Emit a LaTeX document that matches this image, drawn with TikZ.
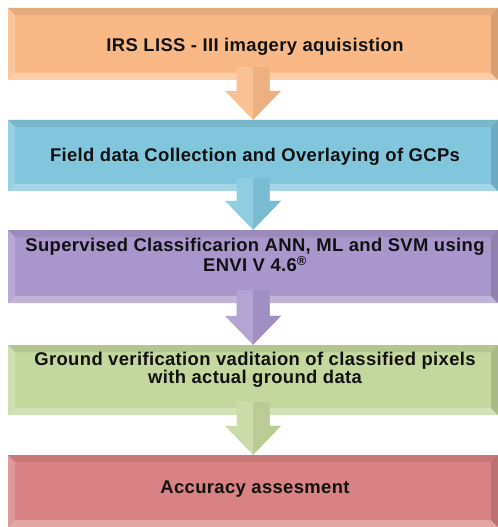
\documentclass[tikz,border=0pt]{standalone}
\usepackage{fontspec}
\setmainfont{Liberation Sans}[LetterSpace=2.0]
\usetikzlibrary{calc}
\definecolor{corange}{HTML}{F9B987}
\definecolor{cblue}{HTML}{82C6DE}
\definecolor{cpurple}{HTML}{A896CC}
\definecolor{cgreen}{HTML}{C4D79C}
\definecolor{cred}{HTML}{D98284}
\definecolor{ctext}{HTML}{111111}
\tikzset{
  boxshape/.style={minimum width=490bp, inner sep=0pt},
  boxtext/.style={inner sep=0pt, align=center, text=ctext, anchor=base,
    font=\bfseries\fontsize{18.5}{16.7}\selectfont}
}
% #1 name, #2 top y, #3 bottom y, #4 colour, #5 text, #6 last baseline y
\newcommand\bevbox[6]{%
  \fill[#4] (8,#2) rectangle (498,#3);
  \fill[#4!92!black] (8,#2) -- (498,#2) -- (491,#2+7) -- (15,#2+7) -- cycle;
  \fill[#4!82!white] (8,#2) -- (15,#2+7) -- (15,#3-7) -- (8,#3) -- cycle;
  \fill[#4!72!white] (8,#3) -- (15,#3-7) -- (491,#3-7) -- (498,#3) -- cycle;
  \fill[#4!86!black] (498,#2) -- (491,#2+7) -- (491,#3-7) -- (498,#3) -- cycle;
  \node[boxshape, minimum height={(#3-#2)*1bp}] (#1) at (253,{(#2+#3)/2}) {};
  \node[boxtext] (#1t) at (255,#6) {#5};
}
% #1 from node, #2 to node, #3 colour
\newcommand\blockarrow[3]{%
  \fill[#3!88!white] let \p1=(#1.south), \p2=(#2.north) in
    (\x1-16.5bp,\y1+13bp) -- (\x1+16.5bp,\y1+13bp) -- (\x1+16.5bp,\y2+29bp)
    -- (\x1+28bp,\y2+29bp) -- (\x1,\y2) -- (\x1-28bp,\y2+29bp)
    -- (\x1-16.5bp,\y2+29bp) -- cycle;
  \fill[#3!95!black] let \p1=(#1.south), \p2=(#2.north) in
    (\x1,\y1+13bp) -- (\x1+16.5bp,\y1+13bp) -- (\x1+16.5bp,\y2+29bp)
    -- (\x1+28bp,\y2+29bp) -- (\x1,\y2) -- cycle;
}
\begin{document}
\begin{tikzpicture}[x=1bp,y=-1bp]
\fill[white] (0,0) rectangle (498,527);
\useasboundingbox (0,0) rectangle (498,527);
\bevbox{n1}{8}{80}{corange}{IRS LISS - III imagery aquisistion}{52}
\bevbox{n2}{120}{191}{cblue}{Field data Collection and Overlaying of GCPs}{162}
\bevbox{n3}{230}{303}{cpurple}{Supervised Classificarion ANN, ML and SVM using\\ENVI V 4.6\textsuperscript{\textregistered}}{271.7}
\bevbox{n4}{345}{415}{cgreen}{Ground verification vaditaion of classified pixels\\with actual ground data}{383.3}
\bevbox{n5}{455}{527}{cred}{Accuracy assesment}{493}
\blockarrow{n1}{n2}{corange}
\blockarrow{n2}{n3}{cblue}
\blockarrow{n3}{n4}{cpurple}
\blockarrow{n4}{n5}{cgreen}
\end{tikzpicture}
\end{document}
